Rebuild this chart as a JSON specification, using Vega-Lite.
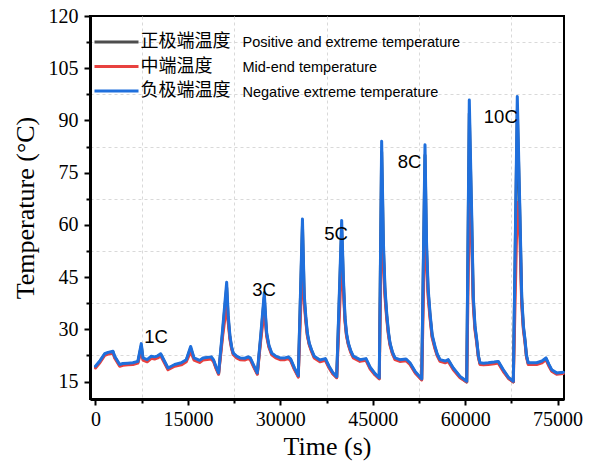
{
  "$schema": "https://vega.github.io/schema/vega-lite/v6.json",
  "width": 474,
  "height": 383,
  "autosize": "none",
  "padding": {"left": 90, "top": 16, "right": 28, "bottom": 65},
  "background": "white",
  "config": {
    "view": {"stroke": "black", "strokeWidth": 2},
    "axis": {
      "labelFont": "Liberation Serif",
      "labelFontSize": 20,
      "labelColor": "black",
      "titleFont": "Liberation Serif",
      "titleFontSize": 26,
      "titleFontWeight": "normal",
      "titleColor": "black",
      "tickColor": "black",
      "domainColor": "black"
    }
  },
  "datasets": {
    "temps": [
      {"t": 0, "p": 19.2, "m": 18.9, "n": 19.4},
      {"t": 735, "p": 20.8, "m": 20.5, "n": 21.0},
      {"t": 1490, "p": 22.8, "m": 22.5, "n": 23.0},
      {"t": 2045, "p": 23.2, "m": 22.9, "n": 23.4},
      {"t": 2840, "p": 23.5, "m": 23.2, "n": 23.7},
      {"t": 3110, "p": 22.1, "m": 21.8, "n": 22.3},
      {"t": 3930, "p": 19.7, "m": 19.4, "n": 19.9},
      {"t": 4460, "p": 20.0, "m": 19.7, "n": 20.2},
      {"t": 5270, "p": 20.1, "m": 19.8, "n": 20.3},
      {"t": 6075, "p": 20.2, "m": 19.9, "n": 20.4},
      {"t": 6880, "p": 20.6, "m": 20.3, "n": 20.8},
      {"t": 7435, "p": 25.3, "m": 24.0, "n": 25.9},
      {"t": 7705, "p": 21.6, "m": 21.2, "n": 21.8},
      {"t": 8390, "p": 21.1, "m": 20.7, "n": 21.3},
      {"t": 9055, "p": 22.1, "m": 21.7, "n": 22.3},
      {"t": 9600, "p": 21.9, "m": 21.5, "n": 22.1},
      {"t": 10105, "p": 22.2, "m": 21.8, "n": 22.4},
      {"t": 10580, "p": 22.8, "m": 22.4, "n": 23.0},
      {"t": 11770, "p": 18.7, "m": 18.4, "n": 18.9},
      {"t": 12855, "p": 19.7, "m": 19.4, "n": 19.9},
      {"t": 13925, "p": 20.2, "m": 19.8, "n": 20.4},
      {"t": 14740, "p": 21.1, "m": 20.7, "n": 21.3},
      {"t": 15445, "p": 24.6, "m": 23.6, "n": 25.1},
      {"t": 15990, "p": 21.6, "m": 21.2, "n": 21.8},
      {"t": 16905, "p": 20.9, "m": 20.5, "n": 21.1},
      {"t": 17450, "p": 21.6, "m": 21.2, "n": 21.8},
      {"t": 18800, "p": 21.9, "m": 21.5, "n": 22.1},
      {"t": 19170, "p": 21.0, "m": 20.7, "n": 21.2},
      {"t": 19575, "p": 19.0, "m": 18.7, "n": 19.2},
      {"t": 19980, "p": 17.3, "m": 17.1, "n": 17.5},
      {"t": 20635, "p": 29.0, "m": 28.0, "n": 30.0},
      {"t": 21290, "p": 42.0, "m": 37.0, "n": 43.5},
      {"t": 21540, "p": 33.0, "m": 32.0, "n": 34.0},
      {"t": 21830, "p": 27.5, "m": 27.0, "n": 28.0},
      {"t": 22095, "p": 24.7, "m": 24.4, "n": 25.0},
      {"t": 22365, "p": 23.0, "m": 22.7, "n": 23.2},
      {"t": 22900, "p": 22.1, "m": 21.8, "n": 22.3},
      {"t": 23455, "p": 21.6, "m": 21.3, "n": 21.8},
      {"t": 24210, "p": 21.5, "m": 21.2, "n": 21.7},
      {"t": 24795, "p": 21.9, "m": 21.6, "n": 22.1},
      {"t": 25120, "p": 21.6, "m": 21.3, "n": 21.8},
      {"t": 25720, "p": 19.3, "m": 19.0, "n": 19.5},
      {"t": 26265, "p": 17.3, "m": 17.1, "n": 17.5},
      {"t": 26830, "p": 27.8, "m": 27.0, "n": 28.5},
      {"t": 27395, "p": 39.2, "m": 35.5, "n": 40.5},
      {"t": 27635, "p": 32.2, "m": 31.0, "n": 33.0},
      {"t": 27785, "p": 28.5, "m": 28.0, "n": 29.0},
      {"t": 28140, "p": 25.2, "m": 24.9, "n": 25.5},
      {"t": 28595, "p": 23.0, "m": 22.7, "n": 23.2},
      {"t": 29250, "p": 22.1, "m": 21.8, "n": 22.3},
      {"t": 29955, "p": 21.6, "m": 21.3, "n": 21.8},
      {"t": 30760, "p": 21.6, "m": 21.3, "n": 21.8},
      {"t": 31295, "p": 21.9, "m": 21.6, "n": 22.1},
      {"t": 31665, "p": 21.3, "m": 21.0, "n": 21.5},
      {"t": 32270, "p": 18.8, "m": 18.5, "n": 19.0},
      {"t": 32915, "p": 16.5, "m": 16.3, "n": 16.7},
      {"t": 33590, "p": 59.5, "m": 50.0, "n": 61.7},
      {"t": 33880, "p": 39.0, "m": 37.5, "n": 40.0},
      {"t": 34135, "p": 33.0, "m": 32.3, "n": 33.7},
      {"t": 34385, "p": 28.5, "m": 28.2, "n": 29.0},
      {"t": 34690, "p": 25.8, "m": 25.6, "n": 26.1},
      {"t": 35090, "p": 23.8, "m": 23.5, "n": 24.0},
      {"t": 35495, "p": 22.1, "m": 21.8, "n": 22.3},
      {"t": 36430, "p": 21.0, "m": 20.7, "n": 21.2},
      {"t": 37310, "p": 21.4, "m": 21.1, "n": 21.6},
      {"t": 37910, "p": 19.2, "m": 18.9, "n": 19.4},
      {"t": 38515, "p": 17.4, "m": 17.2, "n": 17.6},
      {"t": 39150, "p": 16.2, "m": 16.1, "n": 16.4},
      {"t": 39955, "p": 59.0, "m": 49.5, "n": 61.3},
      {"t": 40230, "p": 43.5, "m": 41.5, "n": 45.0},
      {"t": 40490, "p": 33.0, "m": 32.3, "n": 33.7},
      {"t": 40735, "p": 28.5, "m": 28.2, "n": 29.0},
      {"t": 41035, "p": 25.8, "m": 25.6, "n": 26.1},
      {"t": 41440, "p": 23.6, "m": 23.3, "n": 23.8},
      {"t": 41840, "p": 22.1, "m": 21.8, "n": 22.3},
      {"t": 42930, "p": 21.1, "m": 20.8, "n": 21.3},
      {"t": 43905, "p": 21.4, "m": 21.1, "n": 21.6},
      {"t": 44550, "p": 19.0, "m": 18.7, "n": 19.2},
      {"t": 45370, "p": 17.1, "m": 16.9, "n": 17.3},
      {"t": 46060, "p": 15.9, "m": 15.8, "n": 16.1},
      {"t": 46445, "p": 81.0, "m": 62.0, "n": 84.0},
      {"t": 46730, "p": 53.0, "m": 50.0, "n": 55.0},
      {"t": 46980, "p": 41.0, "m": 39.5, "n": 42.0},
      {"t": 47260, "p": 34.0, "m": 33.2, "n": 34.7},
      {"t": 47535, "p": 29.0, "m": 28.5, "n": 29.5},
      {"t": 47800, "p": 25.8, "m": 25.4, "n": 26.1},
      {"t": 48190, "p": 23.3, "m": 23.0, "n": 23.5},
      {"t": 48610, "p": 21.6, "m": 21.3, "n": 21.8},
      {"t": 49400, "p": 21.1, "m": 20.8, "n": 21.3},
      {"t": 50405, "p": 21.3, "m": 21.0, "n": 21.5},
      {"t": 51040, "p": 20.2, "m": 19.9, "n": 20.4},
      {"t": 51915, "p": 17.6, "m": 17.4, "n": 17.8},
      {"t": 52945, "p": 15.6, "m": 15.5, "n": 15.8},
      {"t": 53480, "p": 80.0, "m": 61.0, "n": 83.0},
      {"t": 53730, "p": 53.0, "m": 50.0, "n": 55.0},
      {"t": 53980, "p": 41.0, "m": 39.5, "n": 42.0},
      {"t": 54295, "p": 34.0, "m": 33.2, "n": 34.7},
      {"t": 54640, "p": 28.0, "m": 27.6, "n": 28.5},
      {"t": 55100, "p": 24.8, "m": 24.4, "n": 25.1},
      {"t": 55445, "p": 22.8, "m": 22.5, "n": 23.0},
      {"t": 55915, "p": 21.1, "m": 20.8, "n": 21.3},
      {"t": 56750, "p": 20.7, "m": 20.4, "n": 20.9},
      {"t": 57255, "p": 21.1, "m": 20.8, "n": 21.3},
      {"t": 58070, "p": 18.7, "m": 18.4, "n": 18.9},
      {"t": 59170, "p": 16.3, "m": 16.1, "n": 16.5},
      {"t": 60250, "p": 14.9, "m": 14.9, "n": 15.1},
      {"t": 60670, "p": 92.0, "m": 66.0, "n": 95.9},
      {"t": 61055, "p": 61.0, "m": 56.0, "n": 63.4},
      {"t": 61315, "p": 38.5, "m": 37.0, "n": 39.5},
      {"t": 61590, "p": 30.5, "m": 29.8, "n": 31.0},
      {"t": 61870, "p": 26.7, "m": 26.2, "n": 27.1},
      {"t": 62140, "p": 22.3, "m": 22.0, "n": 22.5},
      {"t": 62405, "p": 20.2, "m": 19.9, "n": 20.4},
      {"t": 63000, "p": 20.1, "m": 19.8, "n": 20.3},
      {"t": 63755, "p": 20.2, "m": 19.9, "n": 20.4},
      {"t": 64710, "p": 20.4, "m": 20.1, "n": 20.6},
      {"t": 65375, "p": 20.6, "m": 20.3, "n": 20.8},
      {"t": 66190, "p": 18.2, "m": 17.9, "n": 18.4},
      {"t": 67030, "p": 16.0, "m": 15.9, "n": 16.2},
      {"t": 67815, "p": 14.9, "m": 14.9, "n": 15.1},
      {"t": 68460, "p": 93.0, "m": 66.5, "n": 96.9},
      {"t": 68895, "p": 61.0, "m": 56.0, "n": 63.0},
      {"t": 69175, "p": 38.5, "m": 37.0, "n": 39.5},
      {"t": 69450, "p": 30.5, "m": 29.8, "n": 31.0},
      {"t": 69710, "p": 26.7, "m": 26.2, "n": 27.1},
      {"t": 69950, "p": 22.3, "m": 22.0, "n": 22.5},
      {"t": 70240, "p": 20.2, "m": 19.9, "n": 20.4},
      {"t": 70855, "p": 20.2, "m": 19.9, "n": 20.4},
      {"t": 71600, "p": 20.2, "m": 19.9, "n": 20.4},
      {"t": 72470, "p": 20.7, "m": 20.4, "n": 20.9},
      {"t": 73115, "p": 21.6, "m": 21.3, "n": 21.8},
      {"t": 73575, "p": 19.8, "m": 19.5, "n": 20.0},
      {"t": 74040, "p": 18.2, "m": 18.0, "n": 18.4},
      {"t": 74845, "p": 17.3, "m": 17.1, "n": 17.5},
      {"t": 75925, "p": 17.5, "m": 17.3, "n": 17.7}
    ],
    "names": [
      {"k": "p", "zh": "正极端温度", "en": "Positive and extreme temperature"},
      {"k": "m", "zh": "中端温度", "en": "Mid-end temperature"},
      {"k": "n", "zh": "负极端温度", "en": "Negative extreme temperature"}
    ],
    "notes": [
      {"t": 9820, "T": 27.9, "label": "1C"},
      {"t": 27350, "T": 41.3, "label": "3C"},
      {"t": 39030, "T": 57.5, "label": "5C"},
      {"t": 50960, "T": 78.0, "label": "8C"},
      {"t": 65780, "T": 90.9, "label": "10C"}
    ]
  },
  "resolve": {"axis": {"x": "independent", "y": "independent"}},
  "layer": [
    {
      "data": {"name": "temps"},
      "transform": [
        {"fold": ["p", "m", "n"], "as": ["k", "T"]},
        {"lookup": "k", "from": {"data": {"name": "names"}, "key": "k", "fields": ["zh", "en"]}}
      ],
      "mark": {"type": "line", "strokeJoin": "round", "strokeCap": "round"},
      "encoding": {
        "x": {
          "field": "t", "type": "quantitative",
          "scale": {"domain": [-890, 76040], "nice": false, "zero": false},
          "axis": {
            "orient": "bottom", "values": [0, 15000, 30000, 45000, 60000, 75000], "format": "d",
            "tickSize": 6, "tickWidth": 2, "domainWidth": 3, "grid": false,
            "labelPadding": 4, "title": "Time (s)", "titlePadding": 4, "labelFlush": false
          }
        },
        "y": {
          "field": "T", "type": "quantitative",
          "scale": {"domain": [10, 120], "nice": false, "zero": false},
          "axis": {
            "orient": "left", "values": [15, 30, 45, 60, 75, 90, 105, 120],
            "tickSize": 6, "tickWidth": 2, "domainWidth": 3, "grid": false,
            "labelPadding": 6, "title": "Temperature (°C)", "titlePadding": 10, "labelFlush": false
          }
        },
        "color": {
          "field": "zh", "type": "nominal",
          "scale": {"domain": ["正极端温度", "中端温度", "负极端温度"], "range": ["#4d4d4d", "#e8413f", "#1f6fdc"]},
          "legend": {
            "title": null, "orient": "none", "legendX": 2.5, "legendY": 17, "padding": 0,
            "symbolType": "M-4,0H4", "symbolSize": 121, "symbolStrokeWidth": 3, "symbolOffset": 15,
            "labelFont": "Noto Sans CJK SC", "labelFontSize": 18, "labelColor": "black",
            "labelOffset": 15, "rowPadding": 6.5
          }
        },
        "strokeWidth": {
          "field": "en", "type": "nominal",
          "scale": {"domain": ["Positive and extreme temperature", "Mid-end temperature", "Negative extreme temperature"], "range": [3, 3, 4]},
          "legend": {
            "title": null, "orient": "none", "legendX": 138, "legendY": 19.5, "padding": 0,
            "symbolOpacity": 0, "symbolSize": 0, "symbolStrokeWidth": 0,
            "labelFont": "Liberation Sans", "labelFontSize": 14.5, "labelColor": "black",
            "labelOffset": 0, "rowPadding": 10, "labelLimit": 400
          }
        }
      }
    },
    {
      "data": {"name": "notes"},
      "mark": {"type": "text", "font": "Liberation Sans", "fontSize": 18.5, "color": "black", "align": "center", "baseline": "middle"},
      "encoding": {
        "x": {
          "field": "t", "type": "quantitative",
          "axis": {
            "orient": "bottom", "values": [7500, 22500, 37500, 52500, 67500],
            "tickSize": 4, "tickWidth": 2, "labels": false, "domain": false, "title": null,
            "grid": true, "gridColor": "#d9d9d9", "gridDash": [3, 3], "gridWidth": 1
          }
        },
        "y": {
          "field": "T", "type": "quantitative",
          "axis": {
            "orient": "left", "values": [22.5, 37.5, 52.5, 67.5, 82.5, 97.5, 112.5],
            "tickSize": 4, "tickWidth": 2, "labels": false, "domain": false, "title": null,
            "grid": true, "gridColor": "#d9d9d9", "gridDash": [3, 3], "gridWidth": 1
          }
        },
        "text": {"field": "label"}
      }
    }
  ]
}
